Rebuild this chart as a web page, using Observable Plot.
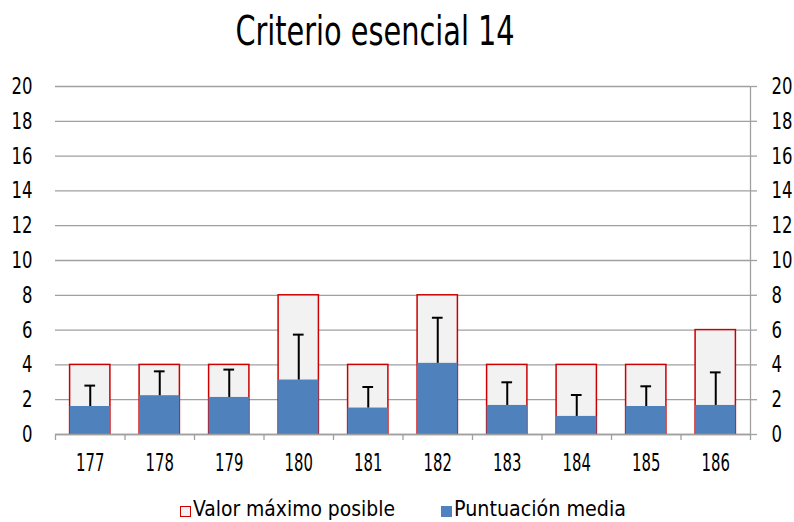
<!DOCTYPE html>
<html>
<head>
<meta charset="utf-8">
<script src="https://cdn.jsdelivr.net/npm/d3@7"></script>
<script src="https://cdn.jsdelivr.net/npm/@observablehq/plot@0.6"></script>
<style>
  html, body { margin: 0; padding: 0; background: #fff; }
  body { width: 794px; height: 522px; position: relative; overflow: hidden; font-family: "DejaVu Sans Condensed", "DejaVu Sans", sans-serif; color: #000; }
  #title { position: absolute; left: 0; top: 6px; width: 750px; text-align: center; font-size: 41px; line-height: 50px; white-space: nowrap; }
  #title span { display: inline-block; transform: scaleX(0.78); transform-origin: center; }
  #chart { position: absolute; left: 0; top: 62px; }
  .sw { position: absolute; box-sizing: border-box; width: 11px; height: 11px; }
  .lt { position: absolute; font-size: 22px; line-height: 20px; height: 20px; white-space: nowrap; transform-origin: left center; }
</style>
</head>
<body>
<div id="title"><span id="titleText"></span></div>
<div id="chart"></div>
<span class="sw" style="left:180px; top:506px; border:1.5px solid #cc0000; background:#f2f2f2"></span>
<span class="lt" id="l1" style="left:193px; top:499px"></span>
<span class="sw" style="left:441px; top:506px; background:#4f81bd"></span>
<span class="lt" id="l2" style="left:454px; top:499px"></span>
<script>
const titleText = "Criterio esencial 14";
const categories = ["177", "178", "179", "180", "181", "182", "183", "184", "185", "186"];
const maxValues = [4, 4, 4, 8, 4, 8, 4, 4, 4, 6];
const meanValues = [1.61, 2.23, 2.13, 3.13, 1.52, 4.09, 1.67, 1.04, 1.61, 1.67];
const errorValues = [1.2, 1.4, 1.6, 2.61, 1.21, 2.62, 1.33, 1.23, 1.16, 1.9];
const yTicks = [0, 2, 4, 6, 8, 10, 12, 14, 16, 18, 20];
const seriesNames = ["Valor máximo posible", "Puntuación media"];

document.getElementById("titleText").textContent = titleText;
const l1 = document.getElementById("l1");
const l2 = document.getElementById("l2");
l1.textContent = seriesNames[0];
l2.textContent = seriesNames[1];

const rows = categories.map((c, i) => ({i, cat: c, max: maxValues[i], mean: meanValues[i], err: errorValues[i]}));
const gray = "#a0a0a0";
const half = 0.29;
const cap = 0.077;

const chart = Plot.plot({
  width: 794,
  height: 426,
  marginLeft: 55,
  marginRight: 44,
  marginTop: 24,
  marginBottom: 54,
  style: {fontFamily: "'DejaVu Sans Condensed', 'DejaVu Sans', sans-serif", background: "#fff", color: "#000"},
  x: {type: "linear", domain: [0, categories.length], axis: null},
  y: {domain: [0, 20], axis: null},
  marks: [
    Plot.gridY(yTicks, {stroke: gray, strokeOpacity: 1, strokeWidth: 1.3}),
    Plot.rectY(rows, {x1: d => d.i + 0.5 - half, x2: d => d.i + 0.5 + half, y1: 0, y2: "max", fill: "#f2f2f2", stroke: "#cc0000", strokeWidth: 1.5}),
    Plot.rectY(rows, {x1: d => d.i + 0.5 - half, x2: d => d.i + 0.5 + half, y1: 0, y2: "mean", fill: "#4f81bd"}),
    Plot.ruleY([0], {stroke: gray, strokeWidth: 1.3}),
    Plot.ruleX([categories.length], {stroke: gray, strokeWidth: 1.3}),
    Plot.ruleX(rows, {x: d => d.i + 0.5, y1: "mean", y2: d => d.mean + d.err, stroke: "#000", strokeWidth: 2}),
    Plot.ruleY(rows, {y: d => d.mean + d.err, x1: d => d.i + 0.5 - cap, x2: d => d.i + 0.5 + cap, stroke: "#000", strokeWidth: 2}),
    Plot.axisY(yTicks, {anchor: "left", tickSize: 0, tickPadding: 23, fontSize: 23.5, label: null, tickFormat: d => String(d)}),
    Plot.axisY(yTicks, {anchor: "right", tickSize: 6, tickPadding: 15, stroke: gray, strokeWidth: 1.3, fontSize: 23.5, label: null, tickFormat: d => String(d)}),
    Plot.axisX(d3.range(0, categories.length + 1), {anchor: "bottom", tickSize: 6, stroke: gray, strokeWidth: 1.3, tickFormat: () => "", label: null}),
    Plot.axisX(rows.map(d => d.i + 0.5), {anchor: "bottom", tickSize: 0, tickPadding: 19, fontSize: 25, label: null, tickFormat: v => categories[Math.floor(v)]})
  ]
});
document.getElementById("chart").appendChild(chart);

// condense glyphs horizontally around each label's anchor, imitating the narrow typeface of the original
function condense(selector, factor) {
  chart.querySelectorAll(selector).forEach(t => {
    const tr = t.getAttribute("transform");
    if (tr && /translate/.test(tr)) {
      t.setAttribute("transform", tr + " scale(" + factor + ",1)");
    } else {
      const x = +(t.getAttribute("x") || 0), y = +(t.getAttribute("y") || 0);
      t.setAttribute("x", 0);
      t.setAttribute("y", 0);
      t.setAttribute("transform", "translate(" + x + "," + y + ") scale(" + factor + ",1)" + (tr ? " " + tr : ""));
    }
  });
}
condense('[aria-label="y-axis tick label"] text', 0.78);
condense('[aria-label="x-axis tick label"] text', 0.66);

// legend texts squeezed to the original widths
l1.style.transform = "scaleX(" + (202 / l1.getBoundingClientRect().width).toFixed(3) + ")";
l2.style.transform = "scaleX(" + (172 / l2.getBoundingClientRect().width).toFixed(3) + ")";
</script>
</body>
</html>
